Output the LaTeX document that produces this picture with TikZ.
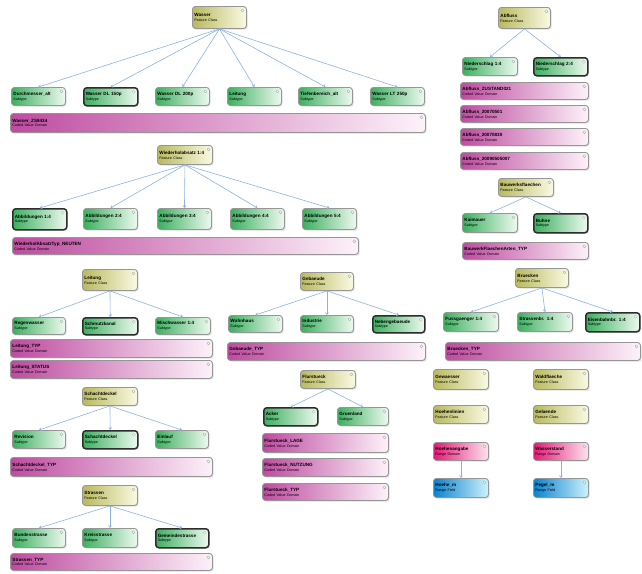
\documentclass[tikz,border=0pt]{standalone}
\usepackage{fontspec}
\setmainfont{Liberation Sans}
\usetikzlibrary{shadows,arrows.meta}
\definecolor{yelL}{RGB}{185,185,95}
\definecolor{yelR}{RGB}{250,250,228}
\definecolor{grnL}{RGB}{60,175,95}
\definecolor{grnR}{RGB}{238,250,240}
\definecolor{magL}{RGB}{190,75,160}
\definecolor{magR}{RGB}{253,242,250}
\definecolor{pnkL}{RGB}{228,25,120}
\definecolor{pnkR}{RGB}{252,228,238}
\definecolor{bluL}{RGB}{10,130,205}
\definecolor{bluR}{RGB}{205,242,252}
\definecolor{bord}{RGB}{150,150,150}
\definecolor{edgec}{RGB}{140,178,225}
\newcommand\nm[1]{{\bfseries\fontsize{4.6}{5}\selectfont\mbox{#1}}}
\newcommand\tp[1]{{\fontsize{3.6}{5}\selectfont\mbox{#1}}}
\tikzset{
  ent/.style={rounded corners=3pt, draw=bord, line width=0.9pt, inner sep=2pt,
    align=left, anchor=north west, font=\fontsize{4.6}{4.8}\selectfont,
    drop shadow={shadow xshift=1.2pt, shadow yshift=-1.2pt, opacity=0.25},
    path picture={\draw[bord, fill=white, line width=0.3pt]
      ([xshift=-4pt,yshift=-4pt]path picture bounding box.north east) circle (1.5pt);}},
  fcls/.style={ent, left color=yelL, right color=yelR},
  stype/.style={ent, left color=grnL, right color=grnR},
  cvd/.style={ent, left color=magL, right color=magR},
  rdom/.style={ent, left color=pnkL, right color=pnkR},
  fld/.style={ent, left color=bluL, right color=bluR},
  heavy/.style={draw={rgb,255:red,45;green,45;blue,45}, line width=1.5pt},
  link/.style={draw=edgec, line width=0.6pt, -{Straight Barb[length=2pt,width=3pt]}}
}
% style, name, x, y, width, height, title, type
\newcommand\E[8]{\node[#1, text width=#5pt-4pt, minimum height=#6pt] (#2) at (#3,#4) {\nm{#7}\\\tp{#8}};}
\begin{document}
\begin{tikzpicture}[x=1pt,y=-1pt]
\useasboundingbox (0,0) rectangle (642,573);
% ---------- Group A ----------
\E{fcls}{A0}{192}{6}{54}{22}{Wasser}{Feature Class}
\E{stype}{A1}{11}{87}{54}{18}{Durchmesser\_alt}{Subtype}
\E{stype,heavy}{A2}{83}{87}{54}{18}{Wasser DL 150p}{Subtype}
\E{stype}{A3}{155}{87}{54}{18}{Wasser DL 200p}{Subtype}
\E{stype}{A4}{227}{87}{54}{18}{Leitung}{Subtype}
\E{stype}{A5}{298}{87}{54}{18}{Tiefenbereich\_alt}{Subtype}
\E{stype}{A6}{370}{87}{54}{18}{Wasser LT 250p}{Subtype}
\E{cvd}{A7}{10}{113}{415}{19}{Wasser\_ZS8434}{Coded Value Domain}
\foreach \c in {A1,A2,A3,A4,A5,A6} \draw[link] (A0.south) -- (\c.north);
% ---------- Group B ----------
\E{fcls}{B0}{157}{145}{55}{19}{Wiederholabsatz 1:4}{Feature Class}
\E{stype,heavy}{B1}{12}{208}{54}{21}{Abbildungen 1:4}{Subtype}
\E{stype}{B2}{83}{208}{54}{21}{Abbildungen 2:4}{Subtype}
\E{stype}{B3}{157}{208}{54}{21}{Abbildungen 3:4}{Subtype}
\E{stype}{B4}{230}{208}{54}{21}{Abbildungen 4:4}{Subtype}
\E{stype}{B5}{302}{208}{54}{21}{Abbildungen 5:4}{Subtype}
\E{cvd}{B6}{12}{237}{346}{17}{WiederholAbsatzTyp\_NEUTEN}{Coded Value Domain}
\foreach \c in {B1,B2,B3,B4,B5} \draw[link] (B0.south) -- (\c.north);
% ---------- Group C ----------
\E{fcls}{C0}{498}{7}{52}{21}{Abfluss}{Feature Class}
\E{stype}{C1}{462}{57}{55}{18}{Niederschlag 1:4}{Subtype}
\E{stype,heavy}{C2}{533}{57}{54}{18}{Niederschlag 2:4}{Subtype}
\E{cvd}{C3}{460}{82}{128}{17}{Abfluss\_ZUSTAND021}{Coded Value Domain}
\E{cvd}{C4}{460}{105}{128}{17}{Abfluss\_20070501}{Coded Value Domain}
\E{cvd}{C5}{460}{128}{128}{17}{Abfluss\_20070830}{Coded Value Domain}
\E{cvd}{C6}{460}{152}{128}{17}{Abfluss\_20090505007}{Coded Value Domain}
\foreach \c in {C1,C2} \draw[link] (C0.south) -- (\c.north);
% ---------- Group D ----------
\E{fcls}{D0}{498}{178}{55}{18}{Bauwerksflaechen}{Feature Class}
\E{stype}{D1}{462}{213}{55}{19}{Kaimauer}{Subtype}
\E{stype,heavy}{D2}{533}{213}{54}{19}{Buhne}{Subtype}
\E{cvd}{D3}{462}{242}{126}{17}{BauwerkFlaechenArten\_TYP}{Coded Value Domain}
\foreach \c in {D1,D2} \draw[link] (D0.south) -- (\c.north);
% ---------- Group E ----------
\E{fcls}{E0}{515}{268}{53}{19}{Bruecken}{Feature Class}
\E{stype}{E1}{443}{312}{55}{19}{Fussgaenger 1:4}{Subtype}
\E{stype}{E2}{517}{312}{55}{19}{Strassenbr. 1:4}{Subtype}
\E{stype,heavy}{E3}{585}{312}{54}{19}{Eisenbahnbr. 1:4}{Subtype}
\E{cvd}{E4}{445}{342}{195}{18}{Bruecken\_TYP}{Coded Value Domain}
\foreach \c in {E1,E2,E3} \draw[link] (E0.south) -- (\c.north);
% ---------- Group F ----------
\E{fcls}{F0}{82}{269}{55}{21}{Leitung}{Feature Class}
\E{stype}{F1}{12}{317}{53}{17}{Regenwasser}{Subtype}
\E{stype,heavy}{F2}{82}{317}{55}{17}{Schmutzkanal}{Subtype}
\E{stype}{F3}{155}{317}{55}{17}{Mischwasser 1:4}{Subtype}
\E{cvd}{F4}{10}{339}{202}{18}{Leitung\_TYP}{Coded Value Domain}
\E{cvd}{F5}{10}{360}{202}{18}{Leitung\_STATUS}{Coded Value Domain}
\foreach \c in {F1,F2,F3} \draw[link] (F0.south) -- (\c.north);
% ---------- Group G ----------
\E{fcls}{G0}{82}{387}{55}{18}{Schachtdeckel}{Feature Class}
\E{stype}{G1}{12}{430}{53}{18}{Revision}{Subtype}
\E{stype,heavy}{G2}{82}{430}{55}{18}{Schachtdeckel}{Subtype}
\E{stype}{G3}{155}{430}{53}{18}{Einlauf}{Subtype}
\E{cvd}{G4}{10}{457}{202}{19}{Schachtdeckel\_TYP}{Coded Value Domain}
\foreach \c in {G1,G2,G3} \draw[link] (G0.south) -- (\c.north);
% ---------- Group H ----------
\E{fcls}{H0}{82}{485}{55}{20}{Strassen}{Feature Class}
\E{stype}{H1}{12}{528}{53}{19}{Bundesstrasse}{Subtype}
\E{stype}{H2}{82}{528}{55}{19}{Kreisstrasse}{Subtype}
\E{stype,heavy}{H3}{155}{528}{53}{19}{Gemeindestrasse}{Subtype}
\E{cvd}{H4}{10}{553}{202}{17}{Strassen\_TYP}{Coded Value Domain}
\foreach \c in {H1,H2,H3} \draw[link] (H0.south) -- (\c.north);
% ---------- Group I ----------
\E{fcls}{I0}{300}{272}{53}{18}{Gebaeude}{Feature Class}
\E{stype}{I1}{228}{315}{54}{17}{Wohnhaus}{Subtype}
\E{stype}{I2}{300}{315}{53}{17}{Industrie}{Subtype}
\E{stype,heavy}{I3}{372}{315}{52}{17}{Nebengebaeude}{Subtype}
\E{cvd}{I4}{227}{342}{198}{18}{Gebaeude\_TYP}{Coded Value Domain}
\foreach \c in {I1,I2,I3} \draw[link] (I0.south) -- (\c.north);
% ---------- Group J ----------
\E{fcls}{J0}{300}{370}{55}{18}{Flurstueck}{Feature Class}
\E{stype,heavy}{J1}{263}{407}{54}{18}{Acker}{Subtype}
\E{stype}{J2}{337}{407}{51}{18}{Gruenland}{Subtype}
\E{cvd}{J3}{262}{433}{126}{19}{Flurstueck\_LAGE}{Coded Value Domain}
\E{cvd}{J4}{262}{458}{126}{18}{Flurstueck\_NUTZUNG}{Coded Value Domain}
\E{cvd}{J5}{262}{483}{126}{17}{Flurstueck\_TYP}{Coded Value Domain}
\foreach \c in {J1,J2} \draw[link] (J0.south) -- (\c.north);
% ---------- Group K ----------
\E{fcls}{K1}{433}{369}{55}{20}{Gewaesser}{Feature Class}
\E{fcls}{K2}{533}{369}{55}{20}{Waldflaeche}{Feature Class}
\E{fcls}{K3}{433}{405}{55}{18}{Hoehenlinien}{Feature Class}
\E{fcls}{K4}{533}{405}{55}{18}{Gelaende}{Feature Class}
\E{rdom}{K5}{433}{442}{55}{18}{Hoehenangabe}{Range Domain}
\E{rdom}{K6}{533}{442}{55}{18}{Wasserstand}{Range Domain}
\E{fld}{K7}{433}{478}{55}{19}{Hoehe\_m}{Range Field}
\E{fld}{K8}{533}{478}{55}{19}{Pegel\_m}{Range Field}
\draw[link] (K5.south) -- (K7.north);
\draw[link] (K6.south) -- (K8.north);
\end{tikzpicture}
\end{document}
